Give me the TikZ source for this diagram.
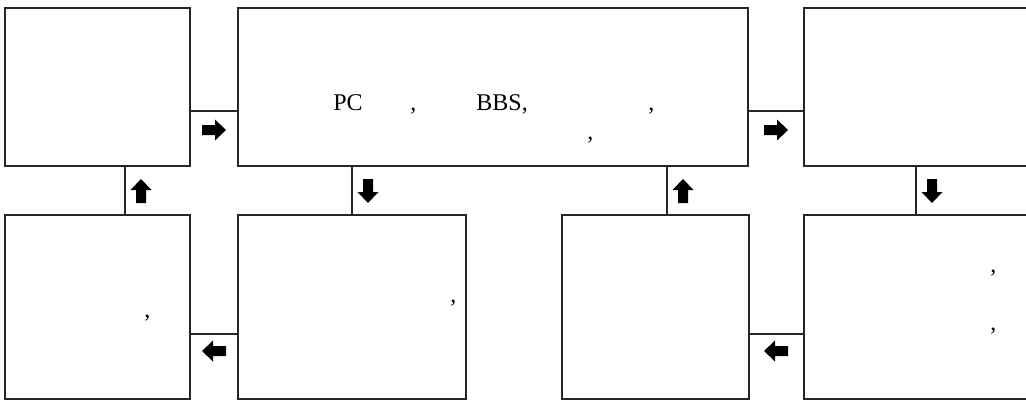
\documentclass[tikz,border=0pt]{standalone}
\usepackage{fontspec}
\setmainfont{Liberation Serif}
\usetikzlibrary{fit}
\tikzset{
    box/.style={draw=black!85,line width=0.65pt,inner sep=0pt},
    conn/.style={draw=black!85,line width=0.65pt},
    txt/.style={anchor=base west,inner sep=0pt,font=\fontsize{12}{14.5}\selectfont},
    blkarr/.pic={\fill (-12,-5) -- (1,-5) -- (1,-10.5) -- (12,0) -- (1,10.5) -- (1,5) -- (-12,5) -- cycle;}
}
\begin{document}
\begin{tikzpicture}[x=0.5pt,y=-0.5pt]
                \useasboundingbox (0,0) rectangle (1026,401);
                \clip (0,0) rectangle (1026,401);
                % top row
                \node[box,fit={(5,8) (190,166)}] (A) {};
                \node[box,fit={(238,8) (748,166)}] (B) {};
                \node[box,fit={(804,8) (1040,166)}] (C) {};
                % bottom row
                \node[box,fit={(5,215) (190,399)}] (D) {};
                \node[box,fit={(238,215) (466,399)}] (E) {};
                \node[box,fit={(562,215) (749,399)}] (F) {};
                \node[box,fit={(804,215) (1040,399)}] (G) {};
                \coordinate (r1) at (0,111);
                \coordinate (r2) at (0,334);
                \coordinate (c1) at (125,0);
                \coordinate (c2) at (352,0);
                \coordinate (c3) at (667,0);
                \coordinate (c4) at (916,0);
                \draw[conn] (A.east|-r1) -- (B.west|-r1);
                \draw[conn] (B.east|-r1) -- (C.west|-r1);
                \draw[conn] (D.north-|c1) -- (A.south-|c1);
                \draw[conn] (B.south-|c2) -- (E.north-|c2);
                \draw[conn] (F.north-|c3) -- (B.south-|c3);
                \draw[conn] (C.south-|c4) -- (G.north-|c4);
                \draw[conn] (E.west|-r2) -- (D.east|-r2);
                \draw[conn] (G.west|-r2) -- (F.east|-r2);
                \pic at (214,130) {blkarr};
                \pic at (776,130) {blkarr};
                \pic[rotate=90] at (141,191) {blkarr};
                \pic[rotate=-90] at (368,191) {blkarr};
                \pic[rotate=90] at (683,191) {blkarr};
                \pic[rotate=-90] at (932,191) {blkarr};
                \pic[rotate=180] at (214,351) {blkarr};
                \pic[rotate=180] at (776,351) {blkarr};
                % texts
                \node[txt] (pc) at (333,111) {PC};
                \node[txt] (k1) at (410,111) {,};
                \node[txt] (bbs) at (476,111) {BBS,};
                \node[txt] (k2) at (648,111) {,};
                \node[txt] (k3) at (587,140) {,};
                \node[txt] (k4) at (144,317) {,};
                \node[txt] (k5) at (450,302) {,};
                \node[txt] (k6) at (990,272) {,};
                \node[txt] (k7) at (990,330) {,};
            \end{tikzpicture}
\end{document}
